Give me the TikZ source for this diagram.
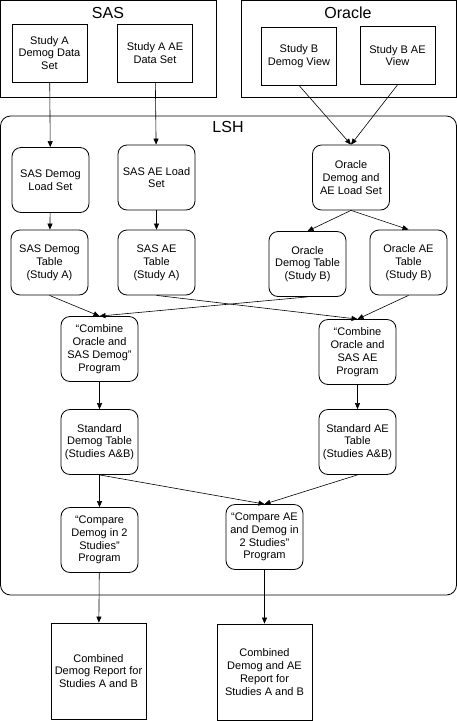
\documentclass[tikz,border=0pt]{standalone}
\usepackage{fontspec}
\setmainfont{Liberation Sans}
\usetikzlibrary{arrows.meta}

\begin{document}
\begin{tikzpicture}[x=1pt, y=-1pt,
        every node/.style={font=\fontsize{11}{12.8}\selectfont},
        databox/.style={draw=black, line width=0.8pt, minimum width=75pt,
            minimum height=58pt, align=center, inner sep=1pt},
        lshbox/.style={draw=black, line width=0.8pt, rounded corners=9pt,
            minimum width=77pt, minimum height=65pt, align=center, inner sep=1pt},
        reportbox/.style={draw=black, line width=0.8pt, minimum width=95pt,
            minimum height=96pt, align=center, inner sep=1pt},
        grouptitle/.style={font=\fontsize{16}{16}\selectfont},
        flow/.style={-{Triangle[length=6pt, width=5pt]}, black, line width=0.6pt}]
        \useasboundingbox (0, 0) rectangle (457, 721);
        % 三个外框:SAS、Oracle 和 LSH
        \draw[line width=0.8pt] (0.5, 0.5) rectangle (216, 97);
        \draw[line width=0.8pt] (241, 0.5) rectangle (456.5, 97);
        \draw[line width=0.8pt, rounded corners=10pt] (0.5, 116) rectangle (456.5, 595);
        \node[grouptitle] (sas) at (108, 12.5) {SAS};
        \node[grouptitle] (oracle) at (348, 12.5) {Oracle};
        \node[grouptitle] (lsh) at (228, 127) {LSH};

        % 数据源
        \node[databox] (sadds) at (49.5, 53) {Study A\\Demog Data\\Set};
        \node[databox] (saeds) at (155, 53) {Study A AE\\Data Set};
        \node[databox] (sbdv) at (299, 56) {Study B\\Demog View};
        \node[databox] (sbaev) at (397.5, 55.5) {Study B AE\\View};

        % LSH 内部的节点
        \node[lshbox] (sdls) at (50.5, 180) {SAS Demog\\Load Set};
        \node[lshbox] (saels) at (156.5, 177.5) {SAS AE Load\\Set};
        \node[lshbox] (ols) at (351, 177.5) {Oracle\\Demog and\\AE Load Set};
        \node[lshbox] (sdt) at (49.5, 262.5) {SAS Demog\\Table\\(Study A)};
        \node[lshbox] (saet) at (156.5, 262.5) {SAS AE\\Table\\(Study A)};
        \node[lshbox] (odt) at (307.5, 264) {Oracle\\Demog Table\\(Study B)};
        \node[lshbox] (oaet) at (408.5, 262.5) {Oracle AE\\Table\\(Study B)};
        \node[lshbox] (cdp) at (99.5, 349) {“Combine\\Oracle and\\SAS Demog”\\Program};
        \node[lshbox] (caep) at (357.5, 352) {“Combine\\Oracle and\\SAS AE\\Program};
        \node[lshbox] (stdt) at (99.5, 442) {Standard\\Demog Table\\(Studies A\&B)};
        \node[lshbox] (staet) at (357.5, 442) {Standard AE\\Table\\(Studies A\&B)};
        \node[lshbox] (cmpd) at (99.5, 540) {“Compare\\Demog in 2\\Studies”\\Program};
        \node[lshbox] (cmpae) at (264.5, 537) {“Compare AE\\and Demog in\\2 Studies”\\Program};

        % 报告
        \node[reportbox] (rptd) at (98.5, 671) {Combined\\Demog Report for\\Studies A and B};
        \node[reportbox] (rptae) at (264.5, 672) {Combined\\Demog and AE\\Report for\\Studies A and B};

        % 连线
        \draw[flow] (sadds) -- (sdls);
        \draw[flow] (saeds) -- (saels);
        \draw[flow] (sbdv.south) -- (ols.north);
        \draw[flow] (sbaev.south) -- (ols.north);
        \draw[flow] (sdls) -- (sdt);
        \draw[flow] (saels) -- (saet);
        \draw[flow] (ols.south) -- (odt.north);
        \draw[flow] (ols.south) -- (oaet.north);
        \draw[flow] (sdt.south) -- (cdp.north);
        \draw[flow] (odt.south) -- (cdp.north);
        \draw[flow] (saet.south) -- (caep.north);
        \draw[flow] (oaet.south) -- (caep.north);
        \draw[flow] (cdp) -- (stdt);
        \draw[flow] (caep) -- (staet);
        \draw[flow] (stdt) -- (cmpd);
        \draw[flow] (stdt.south) -- (cmpae.north);
        \draw[flow] (staet.south) -- (cmpae.north);
        \draw[flow] (cmpd) -- (rptd);
        \draw[flow] (cmpae) -- (rptae);
    \end{tikzpicture}
\end{document}
